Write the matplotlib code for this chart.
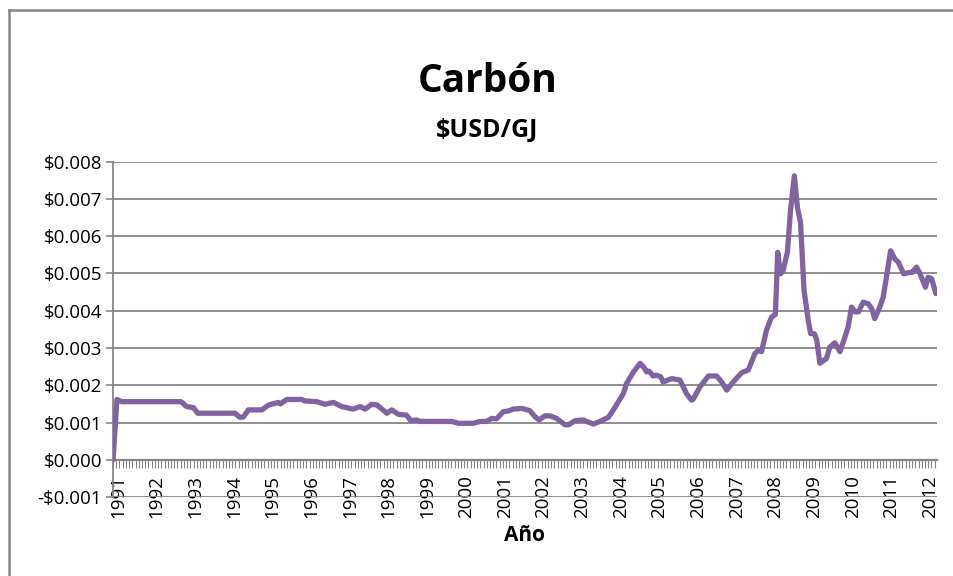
import matplotlib
matplotlib.use("Agg")
import matplotlib.pyplot as plt
from matplotlib.lines import Line2D
from matplotlib.ticker import FuncFormatter, FixedLocator

# fechas (años decimales) y precio del carbón en USD/GJ
fechas = [1991.00, 1991.10, 1991.22, 1992.76, 1992.90, 1993.08, 1993.19, 1994.15,
          1994.28, 1994.37, 1994.50, 1994.85, 1995.02, 1995.27, 1995.33, 1995.49,
          1995.88, 1995.96, 1996.27, 1996.48, 1996.70, 1996.91, 1997.21, 1997.39,
          1997.52, 1997.69, 1997.83, 1998.08, 1998.21, 1998.38, 1998.59, 1998.70,
          1998.85, 1998.94, 1999.76, 1999.93, 2000.32, 2000.49, 2000.66, 2000.79,
          2000.92, 2001.09, 2001.22, 2001.35, 2001.57, 2001.78, 2001.91, 2002.02,
          2002.17, 2002.30, 2002.47, 2002.69, 2002.78, 2002.95, 2003.16, 2003.25,
          2003.42, 2003.59, 2003.81, 2003.94, 2004.20, 2004.28, 2004.46, 2004.63,
          2004.73, 2004.80, 2004.86, 2004.97, 2005.06, 2005.16, 2005.23, 2005.45,
          2005.66, 2005.83, 2005.96, 2006.00, 2006.18, 2006.40, 2006.61, 2006.74,
          2006.87, 2007.04, 2007.26, 2007.43, 2007.60, 2007.69, 2007.77, 2007.90,
          2008.03, 2008.13, 2008.19, 2008.26, 2008.33, 2008.44, 2008.52, 2008.62,
          2008.70, 2008.78, 2008.87, 2008.98, 2009.04, 2009.14, 2009.20, 2009.28,
          2009.45, 2009.54, 2009.67, 2009.80, 2009.93, 2010.01, 2010.10, 2010.19,
          2010.28, 2010.40, 2010.53, 2010.62, 2010.70, 2010.83, 2010.92, 2011.00,
          2011.11, 2011.22, 2011.31, 2011.45, 2011.61, 2011.67, 2011.78, 2011.87,
          2012.01, 2012.08, 2012.17, 2012.28]
precios = [0.00000, 0.00162, 0.00156, 0.00156, 0.00143, 0.00140, 0.00125, 0.00125,
           0.00114, 0.00115, 0.00134, 0.00134, 0.00147, 0.00154, 0.00150, 0.00162,
           0.00162, 0.00158, 0.00156, 0.00149, 0.00154, 0.00143, 0.00136, 0.00143,
           0.00136, 0.00149, 0.00147, 0.00125, 0.00134, 0.00122, 0.00120, 0.00105,
           0.00107, 0.00103, 0.00103, 0.00098, 0.00098, 0.00103, 0.00103, 0.00111,
           0.00110, 0.00129, 0.00131, 0.00136, 0.00138, 0.00132, 0.00116, 0.00107,
           0.00118, 0.00118, 0.00111, 0.00094, 0.00094, 0.00105, 0.00107, 0.00103,
           0.00096, 0.00103, 0.00114, 0.00134, 0.00178, 0.00205, 0.00236, 0.00259,
           0.00248, 0.00236, 0.00238, 0.00225, 0.00227, 0.00223, 0.00209, 0.00218,
           0.00214, 0.00178, 0.00160, 0.00162, 0.00196, 0.00225, 0.00225, 0.00209,
           0.00187, 0.00209, 0.00234, 0.00241, 0.00285, 0.00294, 0.00290, 0.00348,
           0.00383, 0.00390, 0.00557, 0.00499, 0.00508, 0.00557, 0.00668, 0.00762,
           0.00677, 0.00637, 0.00455, 0.00374, 0.00339, 0.00338, 0.00321, 0.00259,
           0.00272, 0.00303, 0.00314, 0.00290, 0.00330, 0.00356, 0.00410, 0.00397,
           0.00397, 0.00423, 0.00419, 0.00406, 0.00379, 0.00410, 0.00437, 0.00490,
           0.00561, 0.00539, 0.00530, 0.00499, 0.00503, 0.00503, 0.00517, 0.00500,
           0.00463, 0.00490, 0.00486, 0.00446]

anios = list(range(1991, 2013))
meses = [1991 + i / 12 for i in range(0, 257)]

gris = "#868686"
morado = "#8064A2"

plt.rcParams["font.family"] = ["Open Sans", "DejaVu Sans"]

fig = plt.figure(figsize=(9.54, 5.76), dpi=100)
ax = fig.add_axes([0.1185, 0.137, 0.9822 - 0.1185, 0.7193 - 0.137])

ax.plot(fechas, precios, color=morado, lw=3.8, solid_joinstyle="round",
        solid_capstyle="round", zorder=3)

ax.set_xlim(1991.0, 2012.31)
ax.set_ylim(-0.001, 0.008)
ax.set_yticks([i / 1000 for i in range(-1, 9)])
ax.yaxis.set_major_formatter(FuncFormatter(
    lambda v, p: ("-$" if v < -1e-9 else "$") + f"{abs(v):.3f}"))
ax.grid(axis="y", color=gris, lw=1.3, zorder=0)

for s in ["top", "right"]:
    ax.spines[s].set_visible(False)
ax.spines["bottom"].set_position(("data", 0))
ax.spines["bottom"].set_color(gris)
ax.spines["bottom"].set_linewidth(1.6)
ax.spines["left"].set_color(gris)
ax.spines["left"].set_linewidth(1.3)

# etiquetas de año (ligeramente desplazadas como en el original)
ax.xaxis.set_major_locator(FixedLocator([a + 0.13 for a in anios]))
ax.set_xticklabels([str(a) for a in anios], rotation=90, fontsize=13.5)
ax.xaxis.set_minor_locator(FixedLocator(meses))
ax.tick_params(axis="x", which="major", length=0, pad=11)
ax.tick_params(axis="x", which="minor", length=5.5, width=0.8, color=gris)
ax.tick_params(axis="y", length=5, width=1.2, color=gris, labelsize=13.5, pad=3)

fig.text(0.550, 0.071, "Año", ha="center", va="center",
         fontsize=15, fontweight="bold")
fig.text(0.511, 0.859, "Carbón", ha="center", va="center",
         fontsize=28, fontweight="bold")
fig.text(0.511, 0.774, "$USD/GJ", ha="center", va="center",
         fontsize=18, fontweight="bold")

# marco del área del gráfico
fig.add_artist(Line2D([0.0094, 0.0094], [0, 0.982], color=gris, lw=1.8,
                      transform=fig.transFigure))
fig.add_artist(Line2D([0.0094, 1.0], [0.982, 0.982], color=gris, lw=1.8,
                      transform=fig.transFigure))

fig.savefig("out.png", dpi=100)
